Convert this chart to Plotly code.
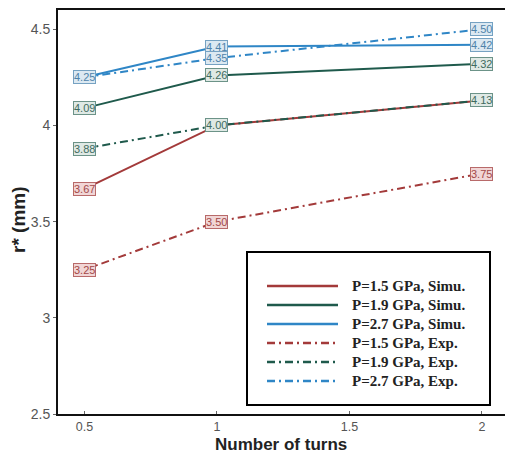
import plotly.graph_objects as go

turns = [0.5, 1.0, 2.0]
simu_15 = [3.67, 4.00, 4.13]
simu_19 = [4.09, 4.26, 4.32]
simu_27 = [4.25, 4.41, 4.42]
exp_15 = [3.25, 3.50, 3.75]
exp_19 = [3.88, 4.00, 4.13]
exp_27 = [4.25, 4.35, 4.50]

names = ["P=1.5 GPa, Simu.", "P=1.9 GPa, Simu.", "P=2.7 GPa, Simu.",
         "P=1.5 GPa, Exp.", "P=1.9 GPa, Exp.", "P=2.7 GPa, Exp."]
series = [simu_15, simu_19, simu_27, exp_15, exp_19, exp_27]

RED, GREEN, BLUE = "#a33a3a", "#1f5a4c", "#2f86c6"
colors = [RED, GREEN, BLUE, RED, GREEN, BLUE]
dashes = ["solid"] * 3 + ["8px,4px,2px,4px"] * 3
label_style = {
    RED: dict(bg="#f1d6d6", border="#b86a6a", text="#a34848"),
    GREEN: dict(bg="#dfe9e5", border="#6c9388", text="#3f6b60"),
    BLUE: dict(bg="#dce9f2", border="#76a2c2", text="#4f83aa"),
}

fig = go.Figure()
for name, ys, c, d in zip(names, series, colors, dashes):
    fig.add_trace(go.Scatter(x=turns, y=ys, mode="lines", name=name,
                             line=dict(color=c, width=2, dash=d), showlegend=False))

# data labels (drawn so the listed order ends on top)
order = [3, 0, 1, 4, 2, 5]
for i in order:
    st = label_style[colors[i]]
    for x, y in zip(turns, series[i]):
        fig.add_annotation(x=x, y=y, text=f"{y:.2f}", showarrow=False,
                           font=dict(family="Liberation Sans", size=11, color=st["text"]),
                           bgcolor=st["bg"], bordercolor=st["border"], borderwidth=1,
                           borderpad=0, xanchor="center", yanchor="middle")

# legend drawn manually
W, H = 505, 455
L, R, T, B = 58, 0, 10, 41
pw, ph = W - L - R, H - T - B
def px(xp): return (xp - L) / pw
def py(yp): return 1 - (yp - T) / ph

fig.add_shape(type="rect", xref="paper", yref="paper",
              x0=px(247), x1=px(490), y0=py(405), y1=py(252),
              line=dict(color="black", width=2), fillcolor="white", layer="above")
rows = [286, 305, 324, 343, 362, 381]
for name, c, d, yr in zip(names, colors, dashes, rows):
    fig.add_shape(type="line", xref="paper", yref="paper",
                  x0=px(267), x1=px(338), y0=py(yr), y1=py(yr),
                  line=dict(color=c, width=2.5, dash=d), layer="above")
    fig.add_annotation(xref="paper", yref="paper", x=px(350), y=py(yr),
                       text=f"<b>{name}</b>", showarrow=False, xanchor="left", yanchor="middle",
                       font=dict(family="Liberation Serif", size=15, color="#222"))

fig.add_annotation(xref="paper", yref="paper", x=px(18), y=py(220), text="<b>r* (mm)</b>",
                   textangle=-90, showarrow=False, xanchor="center", yanchor="middle",
                   font=dict(family="Liberation Sans", size=19, color="#222"))
fig.add_annotation(xref="paper", yref="paper", x=px(281), y=py(456), text="<b>Number of turns</b>",
                   showarrow=False, xanchor="center", yanchor="bottom",
                   font=dict(family="Liberation Sans", size=17, color="#222"))

fig.update_layout(
    width=W, height=H, margin=dict(l=L, r=R, t=T, b=B),
    paper_bgcolor="white", plot_bgcolor="white",
    xaxis=dict(range=[0.4, 2.087], tickvals=[0.5, 1, 1.5, 2], ticktext=["0.5", "1", "1.5", "2"],
               showgrid=False, zeroline=False, showline=True, linecolor="#111", linewidth=2,
               mirror=True, ticks="inside", ticklen=3, tickcolor="#666",
               tickfont=dict(family="Liberation Sans", size=12.5, color="#555")),
    yaxis=dict(range=[2.5, 4.6], tickvals=[2.5, 3, 3.5, 4, 4.5], ticktext=["2.5", "3", "3.5", "4", "4.5"],
               showgrid=False, zeroline=False, showline=True, linecolor="#111", linewidth=2,
               ticks="outside", ticklen=3, tickcolor="#666",
               tickfont=dict(family="Liberation Sans", size=14, color="#555")),
)

fig.write_html("out.html")
